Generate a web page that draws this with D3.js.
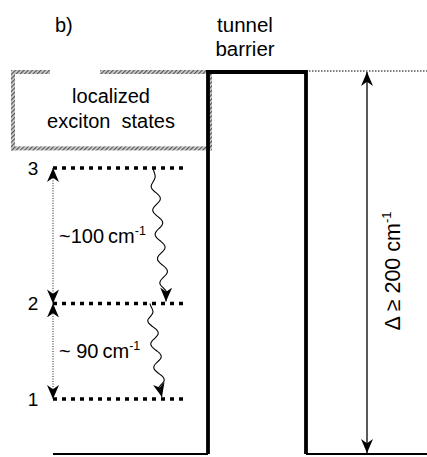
<!DOCTYPE html>
<html><head><meta charset="utf-8">
<script src="https://cdn.jsdelivr.net/npm/d3@7"></script>
<style>
html,body{margin:0;padding:0;background:#fff;}
svg{display:block;font-family:"Liberation Sans",Arial,sans-serif;}
</style></head>
<body>
<svg id="c" width="427" height="457"></svg>
<script>
// ---- data ----
const panelLabel = "b)";
const barrierLabel = ["tunnel", "barrier"];
const boxLabel = ["localized", "exciton  states"];
const levelLabels = ["1", "2", "3"];
// level heights as % of barrier height (schematic energy scale)
const levelHeights = [14.4, 39.4, 74.9];
const boxBottomHeight = 80.0;
const barrierHeight = 100;
const gapLabels = ["~ 90", "~100"];
const gapUnit = "cm";
const gapExp = "-1";
const deltaLabel = "\u0394  \u2265  200 cm";
const deltaExp = "-1";

// ---- layout ----
const W = 427, H = 457;
const svg = d3.select("#c");
const y = d3.scaleLinear().domain([0, barrierHeight]).range([454, 72]);
const x = d3.scaleLinear().domain([0, 427]).range([0, 427]);
const X = {boxL: 13, wellL: 53, lvlR: 185, barL: 208, barR: 306, arrowX: 367, right: 427, gapTop: 50, gapEnd: 100};

const defs = svg.append("defs");
const pat = defs.append("pattern").attr("id", "hatch").attr("patternUnits", "userSpaceOnUse")
  .attr("width", 3).attr("height", 3).attr("patternTransform", "rotate(45)");
pat.append("rect").attr("width", 3).attr("height", 3).attr("fill", "#d8d8d8");
pat.append("rect").attr("width", 1.3).attr("height", 3).attr("fill", "#555");

function marker(id, w, l) {
  defs.append("marker").attr("id", id).attr("markerUnits", "userSpaceOnUse")
    .attr("viewBox", `${-l} ${-w} ${l + 1} ${2 * w}`).attr("refX", 0).attr("refY", 0)
    .attr("markerWidth", l + 1).attr("markerHeight", 2 * w).attr("orient", "auto-start-reverse")
    .append("path").attr("d", `M0,0 L${-l},${-w} L${-l * 0.7},0 L${-l},${w} Z`).attr("fill", "#000");
}
marker("ah", 6, 14);

// hatched box (localized exciton states)
const hb = 4;
const yBoxTop = y(barrierHeight), yBoxBot = y(boxBottomHeight);
const hatchRects = [
  [x(X.boxL) - hb / 2, yBoxTop - hb / 2, x(X.gapTop) - x(X.boxL) + hb / 2, hb],
  [x(X.gapEnd), yBoxTop - hb / 2, x(X.barL) - x(X.gapEnd) + hb / 2, hb],
  [x(X.boxL) - hb / 2, yBoxTop - hb / 2, hb, yBoxBot - yBoxTop + hb],
  [x(X.boxL) - hb / 2, yBoxBot - hb / 2, x(X.barL) - x(X.boxL) + hb, hb],
  [x(X.barL) - hb / 2 + 2, yBoxTop - hb / 2, hb, yBoxBot - yBoxTop + hb]
];
svg.selectAll("rect.hatch").data(hatchRects).enter().append("rect").attr("class", "hatch")
  .attr("x", d => d[0]).attr("y", d => d[1]).attr("width", d => d[2]).attr("height", d => d[3])
  .attr("fill", "url(#hatch)");

// barrier
svg.append("path")
  .attr("d", d3.line()([[x(X.barL), y(0)], [x(X.barL), y(barrierHeight)], [x(X.barR), y(barrierHeight)], [x(X.barR), y(0)]]))
  .attr("fill", "none").attr("stroke", "#000").attr("stroke-width", 3.8).attr("stroke-linejoin", "miter");
// well bottom
svg.append("line").attr("x1", x(X.wellL)).attr("x2", x(X.barL)).attr("y1", y(0)).attr("y2", y(0))
  .attr("stroke", "#000").attr("stroke-width", 2);
svg.append("line").attr("x1", x(X.barR)).attr("x2", x(X.right)).attr("y1", y(0)).attr("y2", y(0))
  .attr("stroke", "#000").attr("stroke-width", 2);
// thin dotted top line
svg.append("line").attr("x1", x(X.barR)).attr("x2", x(X.right)).attr("y1", y(barrierHeight) - 1).attr("y2", y(barrierHeight) - 1)
  .attr("stroke", "#000").attr("stroke-width", 1).attr("stroke-dasharray", "1.5,1.5");

// levels
svg.selectAll("line.level").data(levelHeights).enter().append("line").attr("class", "level")
  .attr("x1", x(X.wellL)).attr("x2", x(X.lvlR)).attr("y1", d => y(d)).attr("y2", d => y(d))
  .attr("stroke", "#000").attr("stroke-width", 3.5).attr("stroke-dasharray", "4,5");
svg.selectAll("text.lvl").data(levelLabels).enter().append("text").attr("class", "lvl")
  .attr("x", x(33)).attr("y", (d, i) => y(levelHeights[i]) + 7).attr("text-anchor", "middle")
  .attr("font-size", 19).text(d => d);

// vertical dotted double arrows between levels
for (let i = 0; i < levelHeights.length - 1; i++) {
  svg.append("line").attr("x1", x(X.wellL)).attr("x2", x(X.wellL))
    .attr("y1", y(levelHeights[i + 1])).attr("y2", y(levelHeights[i]))
    .attr("stroke", "#000").attr("stroke-width", 0.9).attr("stroke-dasharray", "1,1.5")
    .attr("marker-start", "url(#ah)").attr("marker-end", "url(#ah)");
  const t = svg.append("text").attr("x", x(59))
    .attr("y", (y(levelHeights[i + 1]) + y(levelHeights[i])) / 2 + 7)
    .attr("font-size", 20);
  t.append("tspan").text(gapLabels[i] + "\u2009" + gapUnit);
  t.append("tspan").attr("font-size", 12.5).attr("dy", -8).text(gapExp);
}

// wavy relaxation arrows
const wavyStart = [150, 153];
const wavyEnd = [162, 166];
const wavyTurns = [4, 5.5];
for (let i = 0; i < levelHeights.length - 1; i++) {
  const y0 = y(levelHeights[i + 1]), y1 = y(levelHeights[i]) - 2;
  const x0 = x(wavyStart[i]), x1 = x(wavyEnd[i]);
  const n = 80, pts = [];
  for (let k = 0; k <= n; k++) {
    const t = k / n;
    const env = Math.min(1, t * 6) * Math.min(1, (1 - t) * 8);
    pts.push([x0 + (x1 - x0) * t + 4.5 * env * Math.sin(2 * Math.PI * wavyTurns[i] * t), y0 + (y1 - y0) * t]);
  }
  svg.append("path").attr("d", d3.line().curve(d3.curveBasis)(pts))
    .attr("fill", "none").attr("stroke", "#000").attr("stroke-width", 1.1)
    .attr("marker-end", "url(#ah)");
}

// Delta arrow
svg.append("line").attr("x1", x(X.arrowX)).attr("x2", x(X.arrowX))
  .attr("y1", y(barrierHeight)).attr("y2", y(0) - 1)
  .attr("stroke", "#000").attr("stroke-width", 1.3)
  .attr("marker-start", "url(#ah)").attr("marker-end", "url(#ah)");
const dt = svg.append("text").attr("transform", `translate(${x(400)},${(y(0) + y(barrierHeight)) / 2 + 8}) rotate(-90)`)
  .attr("text-anchor", "middle").attr("font-size", 21.5);
dt.append("tspan").text(deltaLabel);
dt.append("tspan").attr("font-size", 13).attr("dy", -9).text(deltaExp);

// texts
svg.append("text").attr("x", x(55)).attr("y", 32).attr("font-size", 20).text(panelLabel);
svg.selectAll("text.bar").data(barrierLabel).enter().append("text").attr("class", "bar")
  .attr("x", x(245)).attr("y", (d, i) => 32 + i * 24).attr("text-anchor", "middle").attr("font-size", 20.5).text(d => d);
svg.selectAll("text.box").data(boxLabel).enter().append("text").attr("class", "box")
  .attr("x", x(111)).attr("y", (d, i) => 103 + i * 25).attr("text-anchor", "middle").attr("font-size", 20)
  .attr("xml:space", "preserve").style("white-space", "pre").text(d => d);
</script>
</body></html>
